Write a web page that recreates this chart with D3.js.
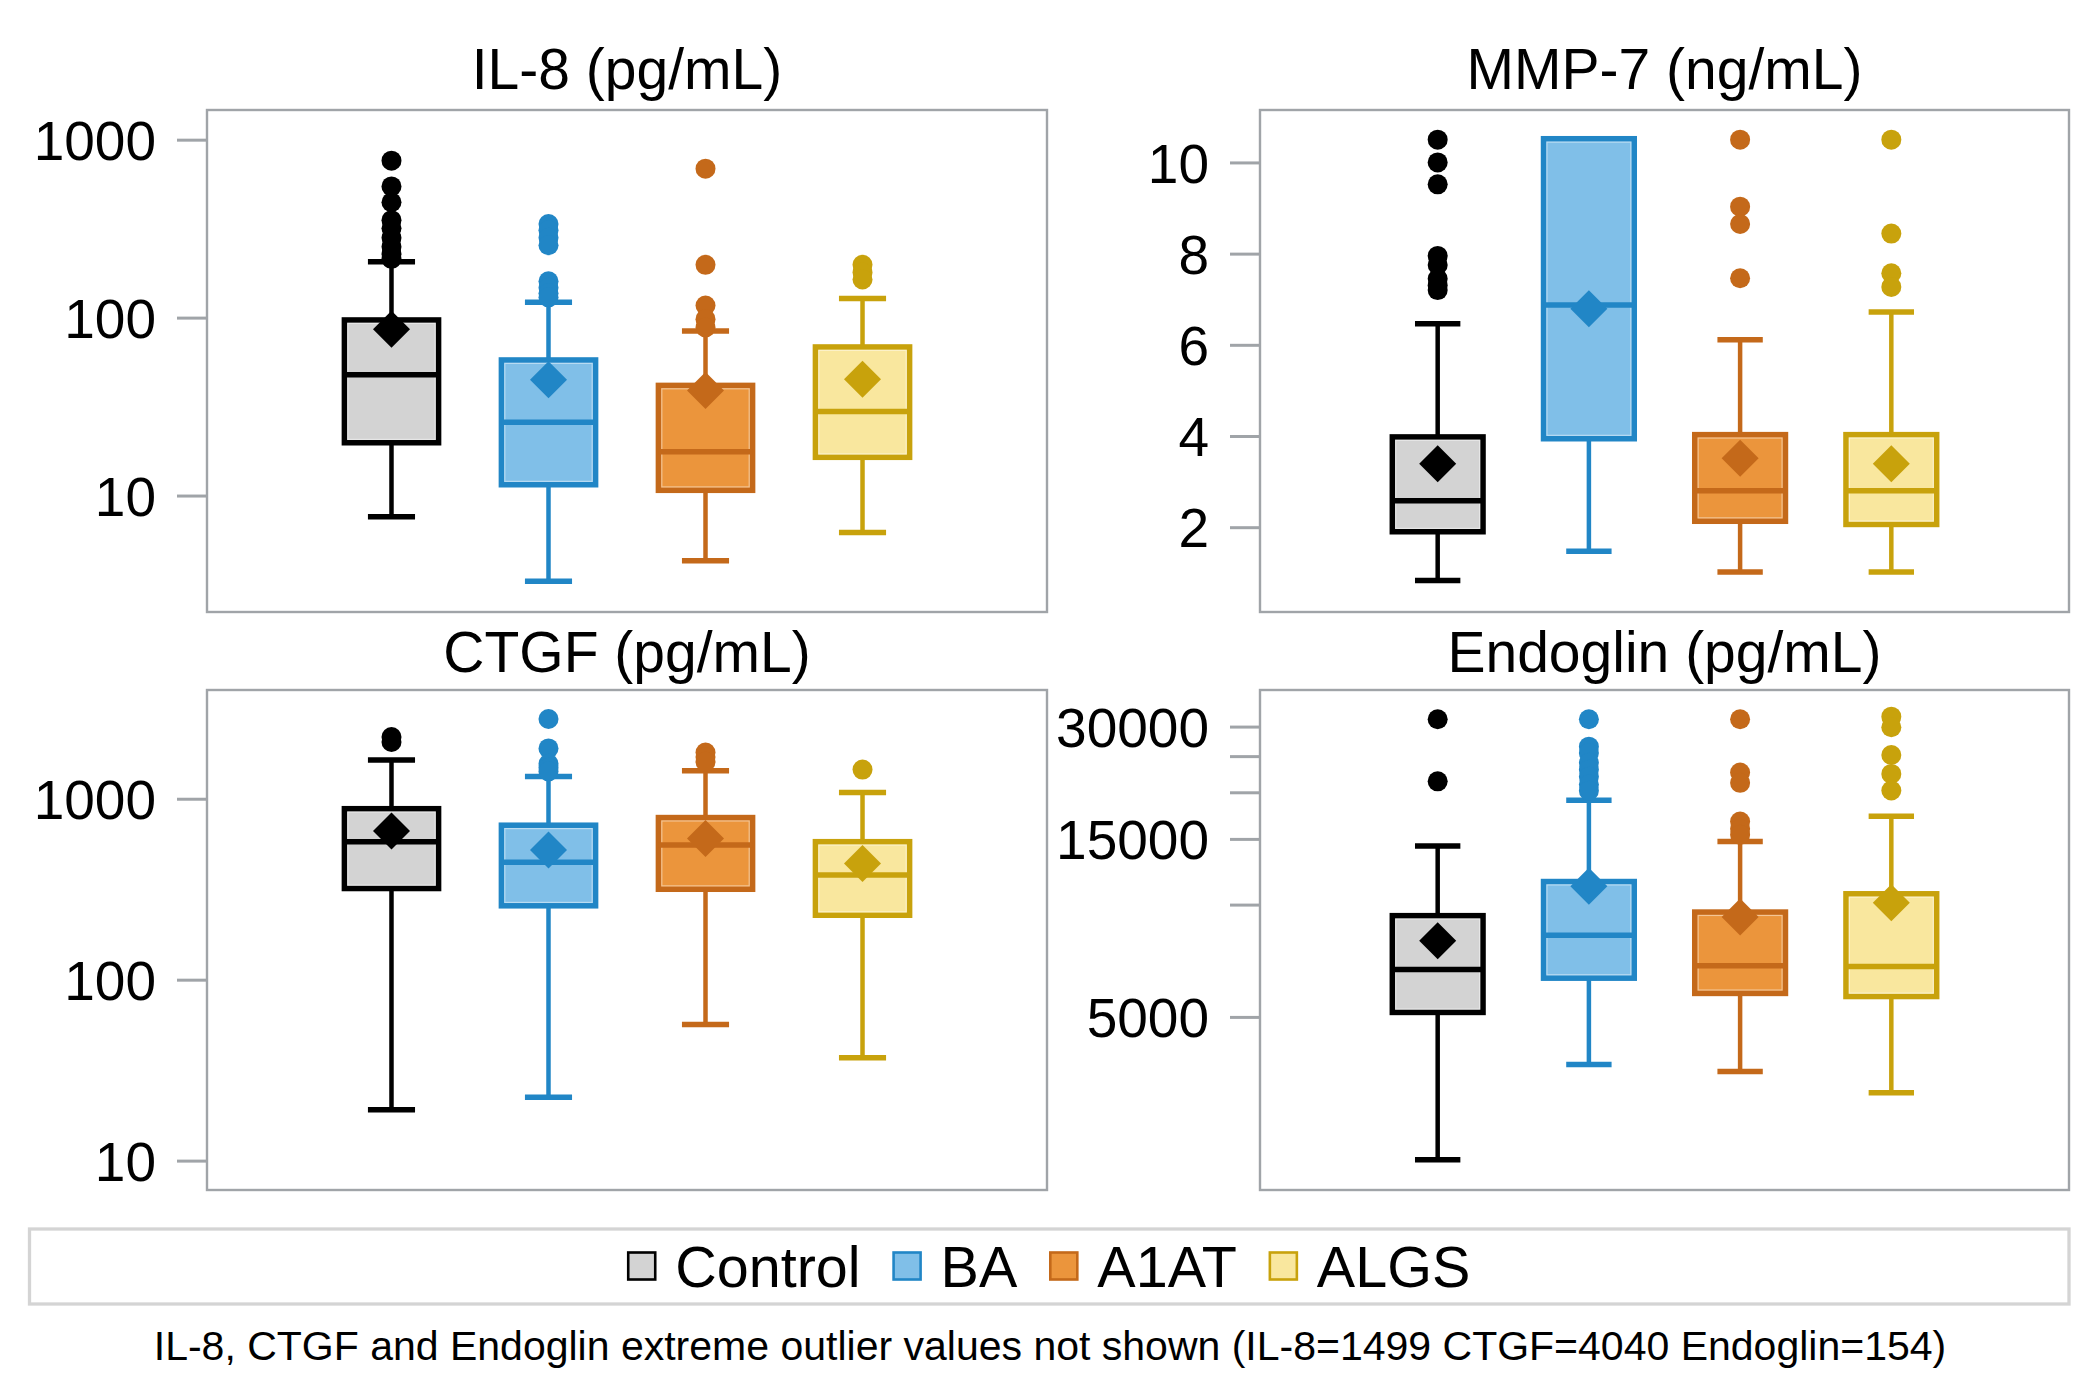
<!DOCTYPE html>
<html>
<head>
<meta charset="utf-8">
<script src="https://cdn.jsdelivr.net/npm/d3@7"></script>
<style>
  html, body { margin: 0; padding: 0; background: #ffffff; }
  svg { display: block; }
  text { font-family: "Liberation Sans", Arial, Helvetica, sans-serif; fill: #000; }
</style>
</head>
<body>
<svg id="chart" width="2100" height="1398"></svg>
<script>
// ---------------- DATA ----------------
const categories = ["Control", "BA", "A1AT", "ALGS"];
const strokeColors = ["#000000", "#2186c6", "#c4691a", "#c8a20c"];
const fillColors   = ["#d3d3d3", "#80bfe8", "#eb953c", "#f9e79e"];

// IL-8 (pg/mL)
const il8Q1      = [19.8, 11.5, 10.7, 16.4];
const il8Median  = [47.8, 25.8, 17.6, 29.7];
const il8Q3      = [97, 57.8, 41.6, 68.4];
const il8Low     = [7.6, 3.3, 4.3, 6.2];
const il8High    = [206, 122, 84, 128];
const il8Mean    = [86, 44.7, 38.9, 45];
const il8Outliers = [
  [762, 546, 445, 353, 318, 281, 250, 228, 214],
  [336, 310, 281, 255, 160, 147, 137, 130],
  [687, 198, 117, 98, 88],
  [198, 179, 164]
];
const il8Ticks = [10, 100, 1000];
const il8TickLabels = ["10", "100", "1000"];

// MMP-7 (ng/mL)
const mmpQ1      = [1.90, 3.94, 2.13, 2.06];
const mmpMedian  = [2.58, 6.875, 2.80, 2.80];
const mmpQ3      = [3.98, 10.52, 4.03, 4.03];
const mmpLow     = [0.83, 1.47, 1.02, 1.02];
const mmpHigh    = [6.46, 10.52, 6.11, 6.72];
const mmpMean    = [3.39, 6.79, 3.51, 3.39];
const mmpOutliers = [
  [10.5, 10.0, 9.52, 7.95, 7.75, 7.45, 7.3, 7.2],
  [],
  [10.5, 9.03, 8.65, 7.46],
  [10.5, 8.44, 7.57, 7.27]
];
const mmpTicks = [2, 4, 6, 8, 10];
const mmpTickLabels = ["2", "4", "6", "8", "10"];

// CTGF (pg/mL)
const ctgfQ1     = [319, 256, 316, 227];
const ctgfMedian = [579, 445, 555, 379];
const ctgfQ3     = [881, 714, 787, 579];
const ctgfLow    = [19.1, 22.4, 56.5, 37];
const ctgfHigh   = [1637, 1327, 1428, 1081];
const ctgfMean   = [664, 520, 602, 439];
const ctgfOutliers = [
  [2193, 2060],
  [2760, 1897, 1559, 1485, 1414],
  [1800, 1700, 1600],
  [1449]
];
const ctgfTicks = [10, 100, 1000];
const ctgfTickLabels = ["10", "100", "1000"];

// Endoglin (pg/mL)
const endoQ1     = [5140, 6350, 5780, 5670];
const endoMedian = [6700, 8280, 6860, 6820];
const endoQ3     = [9340, 11530, 9550, 10690];
const endoLow    = [2070, 3730, 3570, 3130];
const endoHigh   = [14360, 19050, 14760, 17260];
const endoMean   = [8000, 11200, 9270, 10120];
const endoOutliers = [
  [31400, 21400],
  [31400, 26500, 25500, 24000, 23000, 22000, 21000, 20200],
  [31400, 22600, 21200, 16700, 15970, 15400],
  [31900, 29870, 25170, 22400, 20220]
];
const endoTicks = [5000, 10000, 15000, 20000, 25000, 30000];
const endoTickLabels = ["5000", "", "15000", "", "", "30000"];

const footnote = "IL-8, CTGF and Endoglin extreme outlier values not shown (IL-8=1499 CTGF=4040 Endoglin=154)";

// ---------------- LAYOUT ----------------
const svg = d3.select("#chart");
const frameColor = "#a0a4a8";

const panels = [
  { title: "IL-8 (pg/mL)", x0: 207, x1: 1047, y0: 110, y1: 612, titleY: 89,
    scale: d3.scaleLog().domain([2.216, 1468]),
    ticks: il8Ticks, labels: il8TickLabels,
    q1: il8Q1, med: il8Median, q3: il8Q3, lo: il8Low, hi: il8High, mean: il8Mean, out: il8Outliers },
  { title: "MMP-7 (ng/mL)", x0: 1260, x1: 2069, y0: 110, y1: 612, titleY: 89,
    scale: d3.scaleLinear().domain([0.14, 11.15]),
    ticks: mmpTicks, labels: mmpTickLabels,
    q1: mmpQ1, med: mmpMedian, q3: mmpQ3, lo: mmpLow, hi: mmpHigh, mean: mmpMean, out: mmpOutliers },
  { title: "CTGF (pg/mL)", x0: 207, x1: 1047, y0: 690, y1: 1190, titleY: 672,
    scale: d3.scaleLog().domain([6.88, 3990]),
    ticks: ctgfTicks, labels: ctgfTickLabels,
    q1: ctgfQ1, med: ctgfMedian, q3: ctgfQ3, lo: ctgfLow, hi: ctgfHigh, mean: ctgfMean, out: ctgfOutliers },
  { title: "Endoglin (pg/mL)", x0: 1260, x1: 2069, y0: 690, y1: 1190, titleY: 672,
    scale: d3.scaleLog().domain([1718, 37600]),
    ticks: endoTicks, labels: endoTickLabels,
    q1: endoQ1, med: endoMedian, q3: endoQ3, lo: endoLow, hi: endoHigh, mean: endoMean, out: endoOutliers }
];

panels.forEach(p => {
  const y = p.scale.range([p.y1, p.y0]);
  const x = d3.scalePoint().domain(categories).range([p.x0, p.x1]).padding(1.175);
  const step = x.step();
  const boxW = step * 0.6;
  const capW = step * 0.3;
  const g = svg.append("g");

  // title
  g.append("text")
    .attr("x", (p.x0 + p.x1) / 2).attr("y", p.titleY)
    .attr("text-anchor", "middle")
    .attr("font-size", 57)
    .text(p.title);

  // y axis (ticks outside the frame)
  const axis = d3.axisLeft(y)
    .tickValues(p.ticks)
    .tickSize(30)
    .tickPadding(21)
    .tickFormat((d, i) => p.labels[i]);
  const ax = g.append("g").attr("transform", `translate(${p.x0},0)`).call(axis);
  ax.select(".domain").remove();
  ax.selectAll(".tick line").attr("stroke", frameColor).attr("stroke-width", 3);
  ax.selectAll(".tick text")
    .attr("font-size", 55)
    .attr("font-family", "'Liberation Sans', Arial, sans-serif")
    .attr("fill", "#000")
    .attr("dy", "0.358em");

  // frame
  g.append("rect")
    .attr("x", p.x0).attr("y", p.y0)
    .attr("width", p.x1 - p.x0).attr("height", p.y1 - p.y0)
    .attr("fill", "none").attr("stroke", frameColor).attr("stroke-width", 2.4);

  categories.forEach((c, i) => {
    const cx = x(c);
    const sc = strokeColors[i], fc = fillColors[i];
    const gg = g.append("g");
    // whiskers
    gg.append("line").attr("x1", cx).attr("x2", cx)
      .attr("y1", y(p.q3[i])).attr("y2", y(p.hi[i]))
      .attr("stroke", sc).attr("stroke-width", 4.5);
    gg.append("line").attr("x1", cx).attr("x2", cx)
      .attr("y1", y(p.q1[i])).attr("y2", y(p.lo[i]))
      .attr("stroke", sc).attr("stroke-width", 4.5);
    // caps
    [p.hi[i], p.lo[i]].forEach(v => {
      gg.append("line").attr("x1", cx - capW / 2).attr("x2", cx + capW / 2)
        .attr("y1", y(v)).attr("y2", y(v))
        .attr("stroke", sc).attr("stroke-width", 5.5);
    });
    // box
    const yTop = y(p.q3[i]), yBot = y(p.q1[i]);
    gg.append("rect")
      .attr("x", cx - boxW / 2).attr("y", yTop)
      .attr("width", boxW).attr("height", yBot - yTop)
      .attr("fill", fc).attr("stroke", sc).attr("stroke-width", 5.5);
    // inner light edge
    gg.append("rect")
      .attr("x", cx - boxW / 2 + 3.4).attr("y", yTop + 3.4)
      .attr("width", boxW - 6.8).attr("height", Math.max(0, yBot - yTop - 6.8))
      .attr("fill", "none").attr("stroke", "#ffffff").attr("stroke-opacity", 0.45).attr("stroke-width", 1.2);
    // median
    gg.append("line").attr("x1", cx - boxW / 2).attr("x2", cx + boxW / 2)
      .attr("y1", y(p.med[i])).attr("y2", y(p.med[i]))
      .attr("stroke", sc).attr("stroke-width", 5.5);
    // mean diamond
    const dm = 18.5;
    gg.append("path")
      .attr("transform", `translate(${cx},${y(p.mean[i])})`)
      .attr("d", `M0,${-dm}L${dm},0L0,${dm}L${-dm},0Z`)
      .attr("fill", sc);
    // outliers
    gg.selectAll("circle.out").data(p.out[i]).enter().append("circle")
      .attr("class", "out")
      .attr("cx", cx).attr("cy", d => y(d)).attr("r", 10)
      .attr("fill", sc);
  });
});

// ---------------- LEGEND ----------------
const legX0 = 29.5, legX1 = 2069, legY0 = 1229, legY1 = 1304;
svg.append("rect")
  .attr("x", legX0).attr("y", legY0)
  .attr("width", legX1 - legX0).attr("height", legY1 - legY0)
  .attr("fill", "none").attr("stroke", "#d4d4d4").attr("stroke-width", 3.3);

const legG = svg.append("g");
const sq = 27, gapSqText = 20, gapItems = 33, legCY = 1266, legFont = 57.5;
let cursor = 0;
categories.forEach((c, i) => {
  const it = legG.append("g");
  it.append("rect").attr("x", cursor).attr("y", legCY - sq / 2)
    .attr("width", sq).attr("height", sq)
    .attr("fill", fillColors[i]).attr("stroke", strokeColors[i]).attr("stroke-width", 2.6);
  const t = it.append("text").attr("x", cursor + sq + gapSqText).attr("y", legCY + 0.358 * legFont)
    .attr("font-size", legFont).text(c);
  const w = t.node().getComputedTextLength();
  cursor += sq + gapSqText + w + gapItems;
});
const totalW = cursor - gapItems;
legG.attr("transform", `translate(${(legX0 + legX1) / 2 - totalW / 2},0)`);

// ---------------- FOOTNOTE ----------------
svg.append("text")
  .attr("x", 1050).attr("y", 1360)
  .attr("text-anchor", "middle")
  .attr("font-size", 41)
  .text(footnote);
</script>
</body>
</html>
